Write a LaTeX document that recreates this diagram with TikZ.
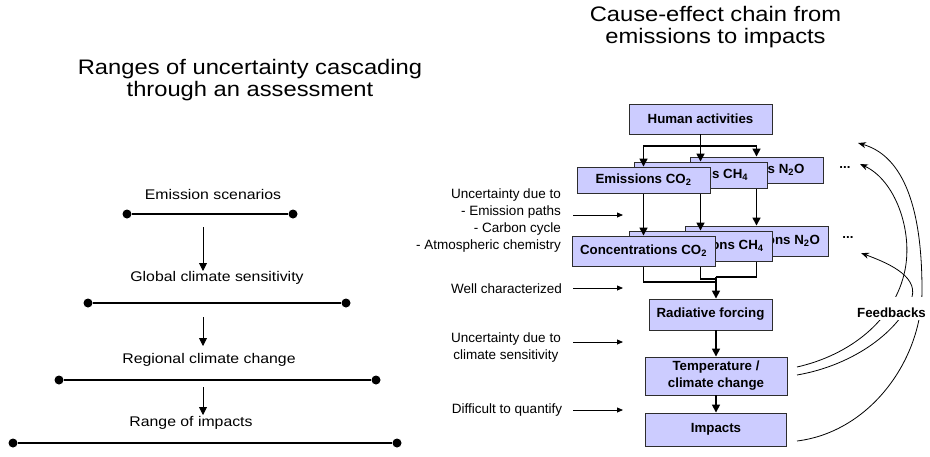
\documentclass[tikz,border=0pt]{standalone}
\usepackage{fontspec}
\setmainfont{Liberation Sans}
\newfontfamily\widefont{Liberation Sans}[FakeStretch=1.13]
\usetikzlibrary{arrows.meta}
\definecolor{boxfill}{RGB}{204,204,255}
\definecolor{boxdraw}{RGB}{45,45,45}
\begin{document}
\begin{tikzpicture}[x=1pt,y=-1pt,
  cbox/.style={draw=boxdraw, line width=0.9pt, fill=boxfill, inner sep=0pt,
    font=\fontsize{13.3}{17}\selectfont\bfseries, align=center},
  chainln/.style={line width=1.6pt, draw=black},
  chainarr/.style={chainln, -{Triangle[length=8pt,width=8pt]}},
  notetxt/.style={inner sep=0pt, font=\fontsize{13.5}{17}\selectfont},
  notearr/.style={line width=0.8pt, -{Triangle[length=6pt,width=5pt]}},
  lbl/.style={inner sep=2pt, font=\widefont\fontsize{14}{17}\selectfont},
  ttl/.style={inner sep=0pt, font=\widefont\fontsize{21}{22}\selectfont, align=center},
  rangeline/.style={line width=2.6pt},
  enddot/.style={circle, fill=black, inner sep=0pt, minimum size=9pt},
  cascarr/.style={line width=0.9pt, -{Triangle[length=8pt,width=8pt]}},
  fbline/.style={line width=0.8pt, -{Stealth[length=8pt,width=6pt]}},
  bfs/.style={font=\fontsize{13.3}{17}\selectfont\bfseries}
]
\useasboundingbox (0,0) rectangle (930,456);

% ---------- titles ----------
\node[ttl] (tl) at (250,80) {Ranges of uncertainty cascading\\through an assessment};
\node[ttl] (tr) at (715.5,27) {Cause-effect chain from\\emissions to impacts};

% ---------- left cascade ----------
\node[lbl] (es) at (213,194) {Emission scenarios};
\node[enddot] (d1a) at (127,214) {}; \node[enddot] (d1b) at (293,214) {};
\draw[rangeline] (d1a) -- (d1b);
\coordinate (a1s) at (203,227); \coordinate (a1e) at (203,271);
\draw[cascarr] (a1s) -- (a1e);

\node[lbl] (gcs) at (217,278) {Global climate sensitivity};
\node[enddot] (d2a) at (88,303) {}; \node[enddot] (d2b) at (346,303) {};
\draw[rangeline] (d2a) -- (d2b);
\coordinate (a2s) at (203,317); \coordinate (a2e) at (203,346);
\draw[cascarr] (a2s) -- (a2e);

\node[lbl] (rcc) at (209,360) {Regional climate change};
\node[enddot] (d3a) at (59,380) {}; \node[enddot] (d3b) at (376,380) {};
\draw[rangeline] (d3a) -- (d3b);
\coordinate (a3s) at (203,387); \coordinate (a3e) at (203,415);
\draw[cascarr] (a3s) -- (a3e);

\node[lbl] (roi) at (191,423) {Range of impacts};
\node[enddot] (d4a) at (13,443) {}; \node[enddot] (d4b) at (397,443) {};
\draw[rangeline] (d4a) -- (d4b);

% ---------- annotations ----------
\node[notetxt, anchor=east, align=right] (u1) at (561,220.5)
  {Uncertainty due to\\- Emission paths\\- Carbon cycle\\- Atmospheric chemistry};
\node[notetxt] (wc) at (506.5,289) {Well characterized};
\node[notetxt, align=center] (ucs) at (506,347.5) {Uncertainty due to\\climate sensitivity};
\node[notetxt] (dq) at (507,410) {Difficult to quantify};
\coordinate (n1s) at (573,215); \coordinate (n1e) at (623,215);
\coordinate (n2s) at (573,288); \coordinate (n2e) at (623,288);
\coordinate (n3s) at (573,342); \coordinate (n3e) at (623,342);
\coordinate (n4s) at (573,410); \coordinate (n4e) at (623,410);
\draw[notearr] (n1s) -- (n1e);
\draw[notearr] (n2s) -- (n2e);
\draw[notearr] (n3s) -- (n3e);
\draw[notearr] (n4s) -- (n4e);

% ---------- chain ----------
\coordinate (cco2) at (643.5,251);
\coordinate (cch4) at (700.5,246);
\coordinate (cn2o) at (756.5,241);
\coordinate (m1) at (716,282);
\coordinate (m2) at (716,279);
\coordinate (merge) at (716,277);
\draw[chainln] (cco2) |- (m1);
\draw[chainln] (cch4) |- (m2);
\draw[chainln] (cn2o) |- (merge);
\draw[chainln] (merge) -- (m1);

\node[cbox, minimum width=143pt, minimum height=30pt] (n2oc) at (cn2o) {Concentrations N\textsubscript{2}O};
\node[cbox, minimum width=143pt, minimum height=30pt] (ch4c) at (cch4) {Concentrations CH\textsubscript{4}};
\node[cbox, minimum width=143pt, minimum height=30pt] (co2c) at (cco2) {Concentrations CO\textsubscript{2}};

\coordinate (eco2) at (643.5,180);
\coordinate (ech4) at (700.5,175);
\coordinate (en2o) at (756.5,170);
\draw[chainarr] (eco2) ++(0,13) -- (co2c.north);
\draw[chainarr] (ech4) ++(0,13) -- (ch4c.north);
\draw[chainarr] (en2o) ++(0,13) -- (n2oc.north);

\node[cbox, minimum width=133pt, minimum height=26pt] (n2oe) at (en2o) {Emissions N\textsubscript{2}O};
\node[cbox, minimum width=133pt, minimum height=26pt] (ch4e) at (ech4) {Emissions CH\textsubscript{4}};
\node[cbox, minimum width=133pt, minimum height=26pt] (co2e) at (eco2) {Emissions CO\textsubscript{2}};

\node[cbox, minimum width=143pt, minimum height=30pt] (human) at (700.5,119) {Human activities};
\coordinate (hsplit) at (700.5,146);
\draw[chainln] (human.south) -- (hsplit);
\draw[chainarr] (hsplit) -| (co2e.north);
\draw[chainarr] (hsplit) -- (ch4e.north);
\draw[chainarr] (hsplit) -| (n2oe.north);

\node[cbox, minimum width=123pt, minimum height=31pt] (rf) at (710.5,314.5) {Radiative forcing};
\node[cbox, minimum width=142pt, minimum height=38pt] (temp) at (716,376) {Temperature /\\climate change};
\node[cbox, minimum width=141pt, minimum height=33pt] (imp) at (716,429.5) {Impacts};
\draw[chainarr] (merge) -- (merge |- rf.north);
\draw[chainarr] (temp.north |- rf.south) -- (temp.north);
\draw[chainarr] (temp.south) -- (imp.north);

\node[bfs] (dots1) at (845,168) {...};
\node[bfs] (dots2) at (848,238) {...};

% ---------- feedbacks ----------
\coordinate (fbs1) at (797,367);
\coordinate (fbs2) at (797,375);
\coordinate (fbs3) at (797,441);
\coordinate (fbt1) at (858,143);
\coordinate (fbt2) at (860,164);
\coordinate (fbt3) at (861,253);
\draw[fbline] (fbs3) .. controls (870,432) and (922,360) .. (922,290)
  .. controls (922,200) and (900,155) .. (fbt1);
\draw[fbline] (fbs1) .. controls (850,355) and (895,320) .. (905,270)
  .. controls (913,230) and (895,180) .. (fbt2);
\draw[fbline] (fbs2) .. controls (855,365) and (900,330) .. (912,297)
  .. controls (918,275) and (885,262) .. (fbt3);
\node[bfs, fill=white, inner xsep=1pt, inner ysep=0pt, text height=20pt,
  text depth=3pt, anchor=base] (fbk) at (891.5,317) {Feedbacks};
\end{tikzpicture}
\end{document}
